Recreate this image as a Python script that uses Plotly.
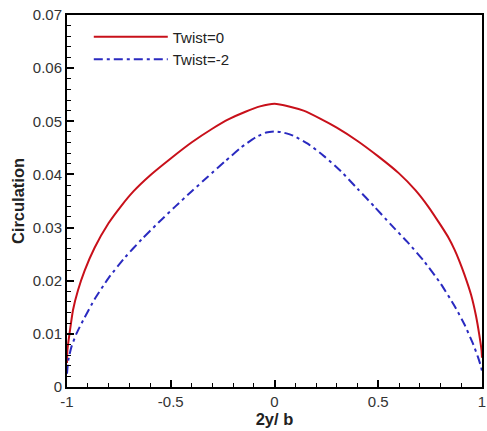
import plotly.graph_objects as go

# Spanwise station 2y/b and circulation
x_twist0 = [-1.0, -0.998, -0.987, -0.971, -0.947, -0.915, -0.867, -0.80, -0.74, -0.68,
            -0.60, -0.50, -0.40, -0.30, -0.22, -0.14, -0.07, 0.0,
            0.07, 0.14, 0.22, 0.30, 0.40, 0.50, 0.60, 0.68, 0.74, 0.80,
            0.84, 0.867, 0.89, 0.915, 0.947, 0.971, 0.987, 0.998, 1.0]
circ_twist0 = [0.0045, 0.0070, 0.0103, 0.0145, 0.0182, 0.0219, 0.0262, 0.0308, 0.0340, 0.0368,
               0.0398, 0.0430, 0.0460, 0.0486, 0.0504, 0.0518, 0.0528, 0.0533,
               0.0528, 0.0520, 0.0505, 0.0488, 0.0463, 0.0434, 0.0402, 0.0370, 0.0340, 0.0305,
               0.0280, 0.0259, 0.0238, 0.0212, 0.0174, 0.0134, 0.0098, 0.0068, 0.0055]

x_twist2 = [-1.0, -0.994, -0.979, -0.955, -0.915, -0.867, -0.80, -0.72, -0.64, -0.56,
            -0.48, -0.40, -0.32, -0.24, -0.16, -0.09, -0.04, 0.0,
            0.04, 0.09, 0.16, 0.24, 0.32, 0.40, 0.48, 0.56, 0.64, 0.72,
            0.80, 0.867, 0.915, 0.955, 0.979, 0.994, 1.0]
circ_twist2 = [0.0025, 0.0050, 0.0075, 0.0100, 0.0131, 0.0165, 0.0205, 0.0244, 0.0278, 0.0309,
               0.0339, 0.0368, 0.0396, 0.0424, 0.0451, 0.0470, 0.0479, 0.0481,
               0.0479, 0.0473, 0.0458, 0.0434, 0.0406, 0.0373, 0.0340, 0.0306, 0.0273, 0.0237,
               0.0195, 0.0153, 0.0118, 0.0083, 0.0058, 0.0040, 0.0030]

x_ticks = [-1, -0.5, 0, 0.5, 1]
x_tick_labels = ["-1", "-0.5", "0", "0.5", "1"]
y_ticks = [0, 0.01, 0.02, 0.03, 0.04, 0.05, 0.06, 0.07]
y_tick_labels = ["0", "0.01", "0.02", "0.03", "0.04", "0.05", "0.06", "0.07"]

fig = go.Figure()
fig.add_trace(go.Scatter(x=x_twist0, y=circ_twist0, mode="lines", name="Twist=0",
                         line=dict(color="#c8101a", width=2, shape="spline", smoothing=0.5)))
fig.add_trace(go.Scatter(x=x_twist2, y=circ_twist2, mode="lines", name="Twist=-2",
                         line=dict(color="#2a2ac0", width=2, dash="9px,4px,3px,4px",
                                   shape="spline", smoothing=0.5)))

FONT = "Liberation Sans, Arial"
axis_font = dict(family=FONT, size=15, color="#333333")
title_font = dict(family=FONT, size=16.5, color="#222222")
fig.update_layout(
    width=487, height=431,
    margin=dict(l=67, r=1, t=15, b=44),
    paper_bgcolor="white", plot_bgcolor="white",
    showlegend=True,
    legend=dict(x=0.0525, y=0.985, xanchor="left", yanchor="top",
                bgcolor="rgba(0,0,0,0)", font=dict(family=FONT, size=15, color="#222222"),
                tracegroupgap=0, itemwidth=74),
    xaxis=dict(range=[-1, 1], tickmode="array", tickvals=x_ticks, ticktext=x_tick_labels,
               ticks="inside", ticklen=7, tickwidth=2, tickcolor="black",
               minor=dict(dtick=0.1, ticks="inside", ticklen=4, tickwidth=1, tickcolor="black"),
               showgrid=False, zeroline=False, showline=True, linecolor="black", linewidth=2,
               mirror=True, tickfont=axis_font, ticklabeloverflow="allow",
               title=dict(text="<b>2y/ b</b>", font=title_font, standoff=4)),
    yaxis=dict(range=[0, 0.07], tickmode="array", tickvals=y_ticks, ticktext=y_tick_labels,
               ticks="inside", ticklen=7, tickwidth=2, tickcolor="black",
               minor=dict(dtick=0.002, ticks="inside", ticklen=4, tickwidth=1, tickcolor="black"),
               showgrid=False, zeroline=False, showline=True, linecolor="black", linewidth=2,
               mirror=True, tickfont=axis_font, ticklabeloverflow="allow",
               title=dict(text="<b>Circulation</b>", font=title_font, standoff=4)),
)

fig.write_html("out.html")
